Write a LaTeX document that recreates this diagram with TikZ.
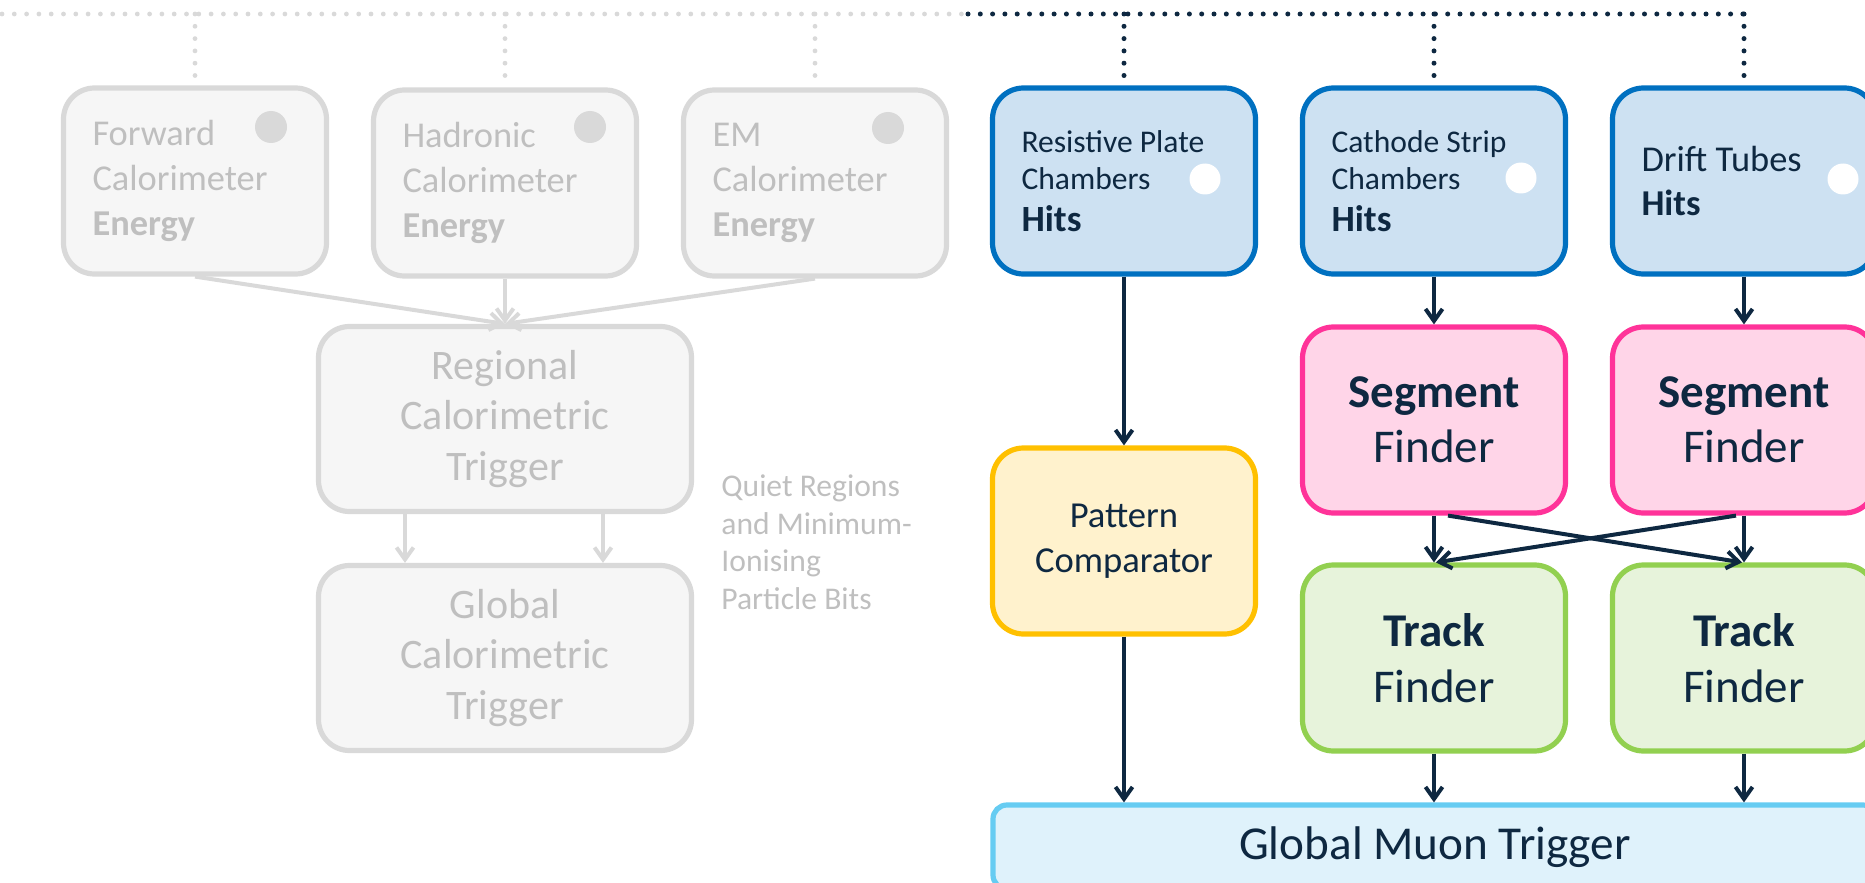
\documentclass[tikz,border=0pt]{standalone}
\usepackage{fontspec}
\setmainfont{Carlito}
\usetikzlibrary{arrows.meta}

\definecolor{navy}{HTML}{0E2841}
\definecolor{greyline}{HTML}{D9D9D9}
\definecolor{greyfill}{HTML}{F6F6F6}
\definecolor{greytext}{HTML}{BFBFBF}
\definecolor{blueline}{HTML}{0070C0}
\definecolor{bluefill}{HTML}{CDE1F2}
\definecolor{pinkline}{HTML}{FF3399}
\definecolor{pinkfill}{HTML}{FFD5E8}
\definecolor{yelline}{HTML}{FFC000}
\definecolor{yelfill}{HTML}{FFF2CD}
\definecolor{greenline}{HTML}{92D050}
\definecolor{greenfill}{HTML}{E7F3DB}
\definecolor{skyline}{HTML}{66CCF2}
\definecolor{skyfill}{HTML}{DFF2FB}

\tikzset{
  box/.style={rounded corners=15.5pt, line width=2.6pt, minimum width=131.5pt,
    minimum height=93pt, inner sep=0pt, align=center},
  lefttext/.style={text width=102.5pt, align=flush left, inner xsep=14.5pt},
  calbox/.style={box, lefttext, draw=greyline, fill=greyfill, text=greytext,
    font=\fontsize{18.2}{22.3}\selectfont},
  bigcal/.style={box, draw=greyline, fill=greyfill, text=greytext,
    minimum width=186.5pt, minimum height=92.5pt, font=\fontsize{21}{25.2}\selectfont},
  muonbox/.style={box, lefttext, draw=blueline, fill=bluefill, text=navy},
  segbox/.style={box, draw=pinkline, fill=pinkfill, text=navy,
    font=\fontsize{23.5}{27.7}\selectfont},
  trackbox/.style={box, draw=greenline, fill=greenfill, text=navy,
    font=\fontsize{23.5}{27.7}\selectfont},
  patbox/.style={box, draw=yelline, fill=yelfill, text=navy,
    font=\fontsize{18.3}{22.5}\selectfont},
  gmtbox/.style={box, rounded corners=7pt, draw=skyline, fill=skyfill, text=navy,
    minimum width=442pt, minimum height=42pt, font=\fontsize{23.6}{28}\selectfont},
  greydot/.style={circle, fill=greyline, minimum size=16pt, inner sep=0pt},
  whitedot/.style={circle, fill=white, minimum size=15.5pt, inner sep=0pt},
  flow/.style={draw=navy, line width=2pt, -{Straight Barb[length=6pt, width=8.5pt, line width=2pt]}},
  greyflow/.style={draw=greyline, line width=2pt, -{Straight Barb[length=6pt, width=8.5pt, line width=2pt]}},
  navydots/.style={draw=navy, line width=2.5pt, line cap=round, dash pattern=on 0pt off 6.15pt},
  greydots/.style={draw=greyline, line width=2.4pt, line cap=round, dash pattern=on 0pt off 6.15pt},
}

\begin{document}
\begin{tikzpicture}[x=0.5pt, y=-0.5pt]
  \useasboundingbox (0,0) rectangle (1865,883);
  \clip (0,0) rectangle (1865,883);

  % calorimeter branch (greyed out)
  \node[calbox] (fwd) at (195,181) {Forward\\Calorimeter\\\textbf{Energy}};
  \node[calbox] (had) at (505,183) {Hadronic\\Calorimeter\\\textbf{Energy}};
  \node[calbox] (em)  at (815,183) {EM\\Calorimeter\\\textbf{Energy}};
  \node[greydot] (fwddot) at (271,127) {};
  \node[greydot] (haddot) at (590,127) {};
  \node[greydot] (emdot)  at (888,128) {};

  \node[bigcal] (rct) at (505,419) {Regional\\Calorimetric\\Trigger};
  \node[bigcal] (gct) at (505,658) {Global\\Calorimetric\\Trigger};

  \node[anchor=west, align=flush left, inner sep=0pt, text=greytext,
        font=\fontsize{15.8}{18.75}\selectfont] (quiet) at (721,542)
        {Quiet Regions\\and Minimum-\\Ionising\\Particle Bits};

  % muon branch
  \node[muonbox, font=\fontsize{15.8}{18.7}\selectfont] (rpc) at (1124,181)
        {Resistive Plate\\Chambers\\[2pt]{\fontsize{18.5}{22}\selectfont\bfseries Hits}};
  \node[muonbox, font=\fontsize{15.8}{18.7}\selectfont] (csc) at (1434,181)
        {Cathode Strip\\Chambers\\[2pt]{\fontsize{18.5}{22}\selectfont\bfseries Hits}};
  \node[muonbox, font=\fontsize{18.2}{22.2}\selectfont] (dt) at (1744,181)
        {Drift Tubes\\\textbf{Hits}};
  \node[whitedot] (rpcdot) at (1205,179) {};
  \node[whitedot] (cscdot) at (1521,178) {};
  \node[whitedot] (dtdot)  at (1843,179) {};

  \node[patbox] (pat) at (1124,541) {Pattern\\Comparator};
  \node[segbox] (seg1) at (1434,420) {\textbf{Segment}\\Finder};
  \node[segbox] (seg2) at (1744,420) {\textbf{Segment}\\Finder};
  \node[trackbox] (trk1) at (1434,658) {\textbf{Track}\\Finder};
  \node[trackbox] (trk2) at (1744,658) {\textbf{Track}\\Finder};

  \node[gmtbox] (gmt) at (1435,847) {Global Muon Trigger};

  % dotted bus along the top
  \coordinate (busL) at (2,14);
  \coordinate (busM) at (968,14);
  \draw[greydots] (busL) -- (busM);
  \draw[navydots] (busM) -- (dt.north |- busM);
  \foreach \n in {fwd, had, em} \draw[greydots] (\n.north |- busL) -- (\n.north);
  \foreach \n in {rpc, csc, dt} \draw[navydots] (\n.north |- busM) -- (\n.north);

  % calorimeter flow
  \draw[greyflow] (fwd.south) -- (rct.north);
  \draw[greyflow] (had.south) -- (rct.north);
  \draw[greyflow] (em.south) -- (rct.north);
  \draw[greyflow] ([xshift=-50pt]rct.south) -- ([xshift=-50pt]gct.north);
  \draw[greyflow] ([xshift=49pt]rct.south) -- ([xshift=49pt]gct.north);

  % muon flow
  \draw[flow] (rpc.south) -- (pat.north);
  \draw[flow] (csc.south) -- (seg1.north);
  \draw[flow] (dt.south) -- (seg2.north);
  \draw[flow] (seg1.south) -- (trk1.north);
  \draw[flow] (seg2.south) -- (trk2.north);
  \draw[flow] ([xshift=7pt]seg1.south) -- ([xshift=-1pt]trk2.north);
  \draw[flow] ([xshift=-4pt]seg2.south) -- ([xshift=1pt]trk1.north);
  \draw[flow] (pat.south) -- (pat.south |- gmt.north);
  \draw[flow] (trk1.south) -- (trk1.south |- gmt.north);
  \draw[flow] (trk2.south) -- (trk2.south |- gmt.north);
\end{tikzpicture}
\end{document}
